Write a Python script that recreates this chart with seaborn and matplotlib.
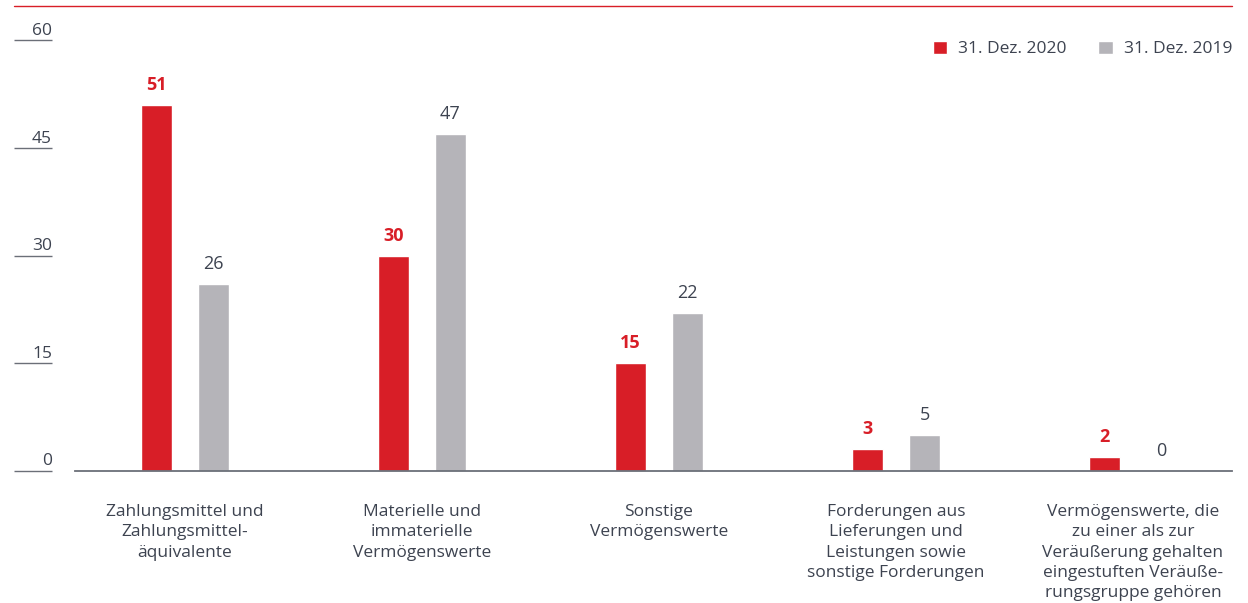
import matplotlib
matplotlib.use("Agg")
import matplotlib.pyplot as plt
from matplotlib.lines import Line2D
from matplotlib.transforms import ScaledTranslation
import pandas as pd
import seaborn as sns

categories = [
    "Zahlungsmittel und\nZahlungsmittel-\näquivalente",
    "Materielle und\nimmaterielle\nVermögenswerte",
    "Sonstige\nVermögenswerte",
    "Forderungen aus\nLieferungen und\nLeistungen sowie\nsonstige Forderungen",
    "Vermögenswerte, die\nzu einer als zur\nVeräußerung gehalten\neingestuften Veräuße-\nrungsgruppe gehören",
]
series = ["31. Dez. 2020", "31. Dez. 2019"]
values_2020 = [51, 30, 15, 3, 2]
values_2019 = [26, 47, 22, 5, 0]
y_ticks = [0, 15, 30, 45, 60]
y_tick_labels = ["0", "15", "30", "45", "60"]

RED = "#d81e27"
GRAY = "#b5b4b9"
TEXT = "#3d4350"
AXIS = "#6b6f78"

sns.set_style("white")
plt.rcParams["font.family"] = ["Open Sans", "DejaVu Sans"]

df = pd.DataFrame({
    "Kategorie": categories * 2,
    "Wert": values_2020 + values_2019,
    "Serie": [series[0]] * len(categories) + [series[1]] * len(categories),
})

fig = plt.figure(figsize=(12.48, 6.03), dpi=100)
ax = fig.add_axes([75 / 1248, 132 / 603, 1157 / 1248, 465 / 603])

sns.barplot(data=df, x="Kategorie", y="Wert", hue="Serie", hue_order=series,
            palette=[RED, GRAY], width=0.481, gap=0.455, saturation=1,
            ax=ax, legend=True)

ax.set_xlim(-0.464, 4.418)
ax.set_ylim(0, 64.8)
ax.set_xlabel("")
ax.set_ylabel("")

for side in ["top", "right", "left"]:
    ax.spines[side].set_visible(False)
ax.spines["bottom"].set_color(AXIS)
ax.spines["bottom"].set_linewidth(1.3)
ax.spines["left"].set_position(("outward", 16.6))

ax.set_yticks(y_ticks, y_tick_labels, va="bottom")
ax.tick_params(axis="y", left=True, length=27.4, width=1.0, color=AXIS, pad=-27.4,
               labelsize=12.5, labelcolor=TEXT, direction="out")
ax.tick_params(axis="x", bottom=False, length=0, pad=23.5, labelsize=12.5, labelcolor=TEXT)
for t in ax.get_xticklabels():
    t.set_linespacing(1.37)
    t.set_ha("center")

offset = ScaledTranslation(0, 1.1 / 72, fig.dpi_scale_trans)
for t in ax.get_yticklabels():
    t.set_transform(t.get_transform() + offset)

# value labels
ax.bar_label(ax.containers[0], padding=8, color=RED, fontsize=13, fontweight="bold")
ax.bar_label(ax.containers[1], padding=8, color=TEXT, fontsize=13)

handles, labels = ax.get_legend_handles_labels()
ax.get_legend().remove()
fig.legend(handles, labels, loc="center right",
           bbox_to_anchor=(1232 / 1248, 1 - 49 / 603), ncol=2, frameon=False,
           borderaxespad=0, borderpad=0, handlelength=0.85, handleheight=0.85,
           handletextpad=0.6, columnspacing=1.85, fontsize=12.5, labelcolor=TEXT)

fig.add_artist(Line2D([14 / 1248, 1232 / 1248], [1 - 6 / 603, 1 - 6 / 603],
                      color=RED, lw=1.0, transform=fig.transFigure))

fig.savefig("out.png", dpi=100)
